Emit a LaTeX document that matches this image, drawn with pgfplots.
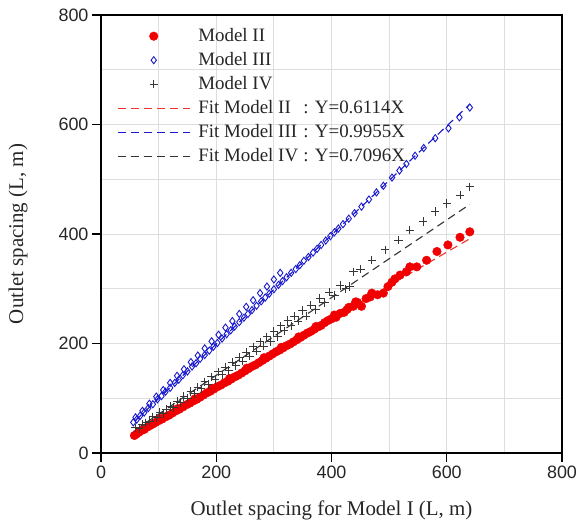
\documentclass[border=0pt]{standalone}
\usepackage{fontspec}
\setmainfont{Liberation Serif}
\setsansfont{Liberation Sans}
\usepackage{pgfplots}
\pgfplotsset{compat=1.18}
\definecolor{redc}{RGB}{240,0,0}
\definecolor{redf}{RGB}{240,50,50}
\definecolor{bluec}{RGB}{25,25,205}
\definecolor{plusc}{RGB}{55,55,55}
\definecolor{gridc}{RGB}{222,222,222}
\newcommand\fm[1]{\makebox[5.55em][l]{Fit Model #1}}
\begin{document}
\begin{tikzpicture}
\begin{axis}[
  scale only axis, width=461bp, height=438bp,
  xmin=0, xmax=800, ymin=0, ymax=800,
  xtick={0,200,...,800}, ytick={0,200,...,800},
  minor xtick={100,300,500,700}, minor ytick={100,300,500,700},
  grid=both,
  major grid style={gridc, line width=0.9bp},
  minor grid style={gridc, line width=0.9bp},
  minor tick length=0pt,
  tick align=outside, major tick length=9bp,
  axis line style={line width=1.8bp},
  major tick style={line width=1.4bp, black},
  xtick pos=bottom, ytick pos=left,
  ticklabel style={font=\fontsize{18}{21}\sffamily, text=black!85},
  /pgf/number format/assume math mode=true,
  xlabel={Outlet spacing for Model I (L, m)},
  ylabel={Outlet spacing (L, m)},
  label style={font=\fontsize{21}{24}\selectfont, text=black!85},
  xlabel style={at={(axis description cs:0.5,-0.130)}, anchor=center},
  ylabel style={at={(axis description cs:-0.180,0.5)}, anchor=center},
  legend cell align=left,
  legend image code/.code={\draw[mark repeat=2,mark phase=2,#1] plot coordinates {(0bp,0bp) (36bp,0bp) (72bp,0bp)};},
  legend style={at={(axis description cs:0.0347,0.9726)}, anchor=north west,
    draw=none, fill=none, inner sep=0pt, row sep=6bp, column sep=8bp,
    nodes={inner sep=0pt, text height=14bp, text depth=4bp, text=black!85},
    font=\fontsize{19}{22}\selectfont},
]
\addplot[only marks, mark=*, mark size=4.3bp, color=redc, mark options={draw=redc, fill=redc}] coordinates {
(58,32) (62,35) (66,38) (70,41) (75,43) (80,47) (85,50) (90,53) (95,56) (100,59)
(106,62) (112,66) (118,69) (124,73) (130,77) (136,80) (142,84) (148,88) (154,91) (160,95)
(166,98) (172,102) (178,106) (184,110) (190,113) (196,117) (202,121) (208,124) (214,128) (220,131)
(226,135) (232,139) (238,142) (244,146) (250,150) (256,154) (262,158) (268,161) (274,165) (280,169)
(286,173) (292,177) (298,181) (304,185) (310,188) (316,192) (322,196) (328,199) (334,203) (340,207)
(346,211) (352,215) (358,219) (364,222) (370,226) (376,230) (382,233) (388,238) (394,242) (400,245)
(408,248) (415,255) (422,257) (430,266) (438,268) (445,275) (452,268) (460,282) (467,285) (480,289)
(490,292) (498,304) (510,318) (519,325) (530,331) (536,340) (548,340) (565,352) (583,368) (602,380)
(623,394) (640,404)
(103,63) (133,81) (163,99) (193,118) (223,136) (253,155) (283,174) (313,193) (343,212) (373,231)
(405,252) (427,262) (442,276) (470,292) (505,312)
};
\addlegendentry{Model II}
\addplot[only marks, mark=diamond, mark size=3.6bp, color=bluec, mark options={line width=0.9bp}] coordinates {
(56,56) (62,61) (68,68) (75,74) (82,82) (90,89) (98,98) (105,104) (112,112) (120,119)
(128,128) (135,134) (142,142) (150,149) (158,158) (165,164) (172,172) (180,179) (188,187) (195,194)
(202,201) (210,209) (218,217) (225,224) (232,231) (240,239) (248,247) (255,254) (262,261) (270,269)
(278,277) (285,284) (292,291) (300,299) (308,307) (315,314) (322,321) (330,329) (338,336) (345,343)
(352,351) (360,358) (368,366) (375,373) (382,380) (390,388) (398,396) (405,403) (412,410) (420,418)
(430,428) (440,438) (452,450) (465,463) (478,476) (490,488) (505,503) (518,516) (530,528) (545,543)
(560,557) (580,575) (603,593) (622,613) (640,631)
(60,65) (72,77) (84,90) (96,103) (108,115) (120,128) (132,141) (144,153) (156,166) (168,178)
(180,191) (192,204) (204,216) (216,229) (228,241) (240,254) (252,267) (264,279) (276,292) (288,304)
(300,317) (311,329)
};
\addlegendentry{Model III}
\addplot[only marks, mark=+, mark size=4.2bp, color=plusc, mark options={line width=1bp}] coordinates {
(60,46) (66,44) (72,52) (78,55) (84,58) (90,66) (96,64) (102,74) (108,72) (114,80)
(120,85) (126,83) (132,94) (138,92) (144,103) (150,100) (156,112) (162,108) (168,120) (174,117)
(180,130) (186,125) (192,139) (198,134) (204,148) (210,143) (216,157) (222,151) (228,166) (234,160)
(240,175) (246,168) (252,184) (258,177) (264,194) (270,186) (276,203) (282,195) (288,212) (294,204)
(300,222) (306,213) (312,232) (318,223) (324,242) (330,232) (336,250) (342,241) (350,260) (356,250)
(364,270) (372,262) (380,282) (388,275) (396,294) (405,288) (415,306) (425,300) (432,304) (438,331)
(450,336) (470,352) (493,371) (516,389) (536,407) (559,423) (580,441) (600,456) (623,471) (640,486)
};
\addlegendentry{Model IV}
\addplot[redf, line width=1.1bp, dash pattern=on 8bp off 5bp] coordinates {(60,36.7) (640,391.3)};
\addlegendentry{\fm{II}: Y=0.6114X}
\addplot[bluec, line width=1.1bp, dash pattern=on 8bp off 5bp] coordinates {(60,59.7) (640,637.1)};
\addlegendentry{\fm{III}: Y=0.9955X}
\addplot[black!80, line width=1.1bp, dash pattern=on 8bp off 5bp] coordinates {(60,42.6) (640,454.1)};
\addlegendentry{\fm{IV}: Y=0.7096X}
\end{axis}
\pgfresetboundingbox
\path ([shift={(-101bp,-74bp)}]current axis.south west) rectangle ([shift={(19bp,15bp)}]current axis.north east);
\end{tikzpicture}
\end{document}
